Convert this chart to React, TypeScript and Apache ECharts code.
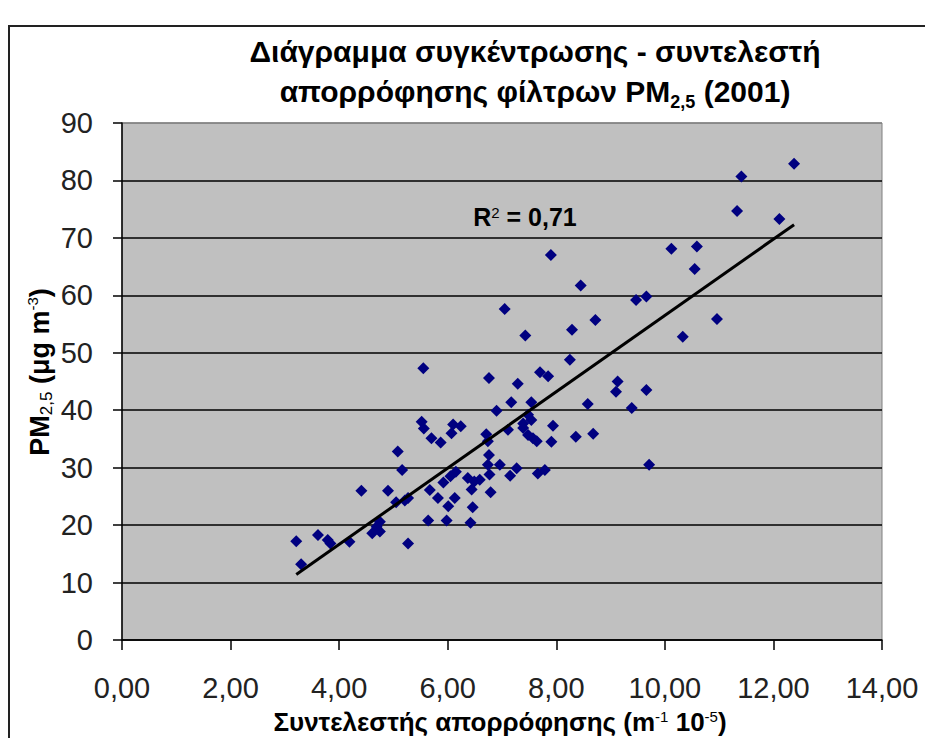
import React, { useEffect, useRef } from "react";
import * as echarts from "echarts";

// Absorption coefficient (m^-1 10^-5)
const xValues = [
  3.21, 3.3, 3.61, 3.79, 3.84, 4.19, 4.41, 4.61, 4.69, 4.75, 4.75, 4.9, 5.05, 5.08, 5.16, 5.21, 5.27, 5.27,
  5.52, 5.55, 5.56, 5.64, 5.67, 5.7, 5.82, 5.87, 5.92, 5.98, 6.01, 6.05, 6.07, 6.1, 6.13, 6.15, 6.24, 6.37,
  6.42, 6.44, 6.46, 6.49, 6.59, 6.71, 6.74, 6.76, 6.74, 6.77, 6.79, 6.76, 6.9, 6.96, 7.05, 7.11, 7.15, 7.17,
  7.27, 7.29, 7.39, 7.39, 7.43, 7.48, 7.48, 7.54, 7.54, 7.57, 7.64, 7.66, 7.7, 7.79, 7.85, 7.9, 7.91, 7.94,
  8.25, 8.29, 8.36, 8.45, 8.58, 8.68, 8.72, 9.1, 9.13, 9.39, 9.47, 9.66, 9.66, 9.71, 10.12, 10.33, 10.55,
  10.59, 10.96, 11.33, 11.41, 12.11, 12.38,
];
// PM2.5 concentration (μg m^-3)
const yValues = [
  17.2, 13.2, 18.3, 17.4, 16.8, 17.1, 26.0, 18.6, 19.7, 20.6, 18.9, 26.0, 24.0, 32.8, 29.6, 24.3, 24.7, 16.8,
  38.0, 47.3, 36.8, 20.8, 26.1, 35.1, 24.7, 34.4, 27.4, 20.8, 23.3, 28.5, 36.0, 37.5, 24.7, 29.3, 37.2, 28.2,
  20.4, 26.2, 23.1, 27.6, 27.9, 35.8, 34.6, 32.2, 30.5, 28.8, 25.7, 45.6, 39.9, 30.5, 57.6, 36.6, 28.6, 41.4,
  29.9, 44.6, 37.7, 36.9, 53.0, 39.2, 35.7, 41.4, 38.3, 35.1, 34.6, 29.0, 46.6, 29.6, 45.9, 67.0, 34.5, 37.3,
  48.8, 54.0, 35.4, 61.7, 41.1, 35.9, 55.7, 43.2, 45.0, 40.4, 59.2, 59.8, 43.5, 30.5, 68.1, 52.8, 64.6,
  68.5, 55.9, 74.7, 80.7, 73.3, 82.9,
];
// Linear trendline end points
const trendX = [3.21, 12.38];
const trendY = [11.4, 72.3];

const xTicks = { min: 0, max: 14, interval: 2 };
const yTicks = { min: 0, max: 90, interval: 10 };
const r2Label = "0,71";

const FONT = '"Liberation Sans", Arial, sans-serif';

export default function App() {
  const ref = useRef<HTMLDivElement>(null);

  useEffect(() => {
    if (!ref.current) return;
    const chart = echarts.init(ref.current, undefined, { renderer: "svg" });
    const points = xValues.map((x, i) => [x, yValues[i]]);
    const trend = trendX.map((x, i) => [x, trendY[i]]);
    const splitColors = Array.from({ length: 10 }, (_, i) => (i === 9 ? "#808080" : "#000000"));

    chart.setOption({
      animation: false,
      backgroundColor: "#ffffff",
      title: {
        text: "Διάγραμμα συγκέντρωσης - συντελεστή\nαπορρόφησης φίλτρων PM{sub|2,5} (2001)",
        left: 530,
        top: 26,
        textAlign: "center",
        textStyle: {
          fontFamily: FONT,
          fontWeight: "bold",
          fontSize: 30,
          lineHeight: 40,
          color: "#000",
          rich: {
            sub: { fontFamily: FONT, fontWeight: "bold", fontSize: 18, verticalAlign: "bottom", lineHeight: 34, color: "#000" },
          },
        },
      },
      grid: {
        left: 122,
        right: 43,
        top: 123,
        bottom: 98,
        show: true,
        backgroundColor: "#C0C0C0",
        borderColor: "#808080",
        borderWidth: 1,
      },
      xAxis: {
        type: "value",
        min: xTicks.min,
        max: xTicks.max,
        interval: xTicks.interval,
        axisLine: { show: true, onZero: false, lineStyle: { color: "#000", width: 1.5 } },
        axisTick: { show: true, inside: false, length: 10, lineStyle: { color: "#000", width: 1.5 } },
        splitLine: { show: false },
        axisLabel: {
          margin: 33,
          fontFamily: FONT,
          fontSize: 29,
          color: "#222",
          formatter: (v: number) => v.toFixed(2).replace(".", ","),
        },
      },
      yAxis: {
        type: "value",
        min: yTicks.min,
        max: yTicks.max,
        interval: yTicks.interval,
        axisLine: { show: true, onZero: false, lineStyle: { color: "#000", width: 1.5 } },
        axisTick: { show: true, inside: false, length: 9, lineStyle: { color: "#000", width: 1.5 } },
        splitLine: { show: true, lineStyle: { color: splitColors, width: 1.5 } },
        axisLabel: { margin: 29, fontFamily: FONT, fontSize: 29, color: "#222" },
      },
      graphic: [
        {
          type: "rect",
          shape: { x: 9, y: 26, width: 1000, height: 1000 },
          style: { fill: "none", stroke: "#222", lineWidth: 2 },
          silent: true,
          z: 100,
        },
        {
          type: "text",
          x: 525,
          y: 217,
          style: {
            text: "R{sup|2} = " + r2Label,
            fontFamily: FONT,
            fontWeight: "bold",
            fontSize: 25,
            fill: "#000",
            align: "center",
            verticalAlign: "middle",
            rich: { sup: { fontFamily: FONT, fontWeight: "normal", fontSize: 15, verticalAlign: "top", lineHeight: 25 } },
          },
          z: 100,
        },
        {
          type: "text",
          x: 500,
          y: 722,
          style: {
            text: "Συντελεστής απορρόφησης (m{sup|-1} 10{sup|-5})",
            fontFamily: FONT,
            fontWeight: "bold",
            fontSize: 26,
            fill: "#000",
            align: "center",
            verticalAlign: "middle",
            rich: { sup: { fontFamily: FONT, fontWeight: "normal", fontSize: 15, verticalAlign: "top", lineHeight: 26 } },
          },
          z: 100,
        },
        {
          type: "text",
          x: 40,
          y: 372,
          rotation: Math.PI / 2,
          style: {
            text: "PM{sub|2,5} (μg m{sup|-3})",
            fontFamily: FONT,
            fontWeight: "bold",
            fontSize: 27,
            fill: "#000",
            align: "center",
            verticalAlign: "middle",
            rich: {
              sub: { fontFamily: FONT, fontWeight: "normal", fontSize: 17, verticalAlign: "bottom", lineHeight: 30 },
              sup: { fontFamily: FONT, fontWeight: "normal", fontSize: 15, verticalAlign: "top", lineHeight: 27 },
            },
          },
          z: 100,
        },
      ],
      series: [
        {
          type: "scatter",
          data: points,
          symbol: "diamond",
          symbolSize: 12,
          itemStyle: { color: "#000080", opacity: 1 },
          z: 3,
        },
        {
          type: "line",
          data: trend,
          showSymbol: false,
          symbol: "none",
          lineStyle: { color: "#000", width: 3 },
          z: 4,
        },
      ],
    });
    return () => chart.dispose();
  }, []);

  return <div ref={ref} style={{ position: "absolute", left: 0, top: 0, width: 925, height: 738 }} />;
}
